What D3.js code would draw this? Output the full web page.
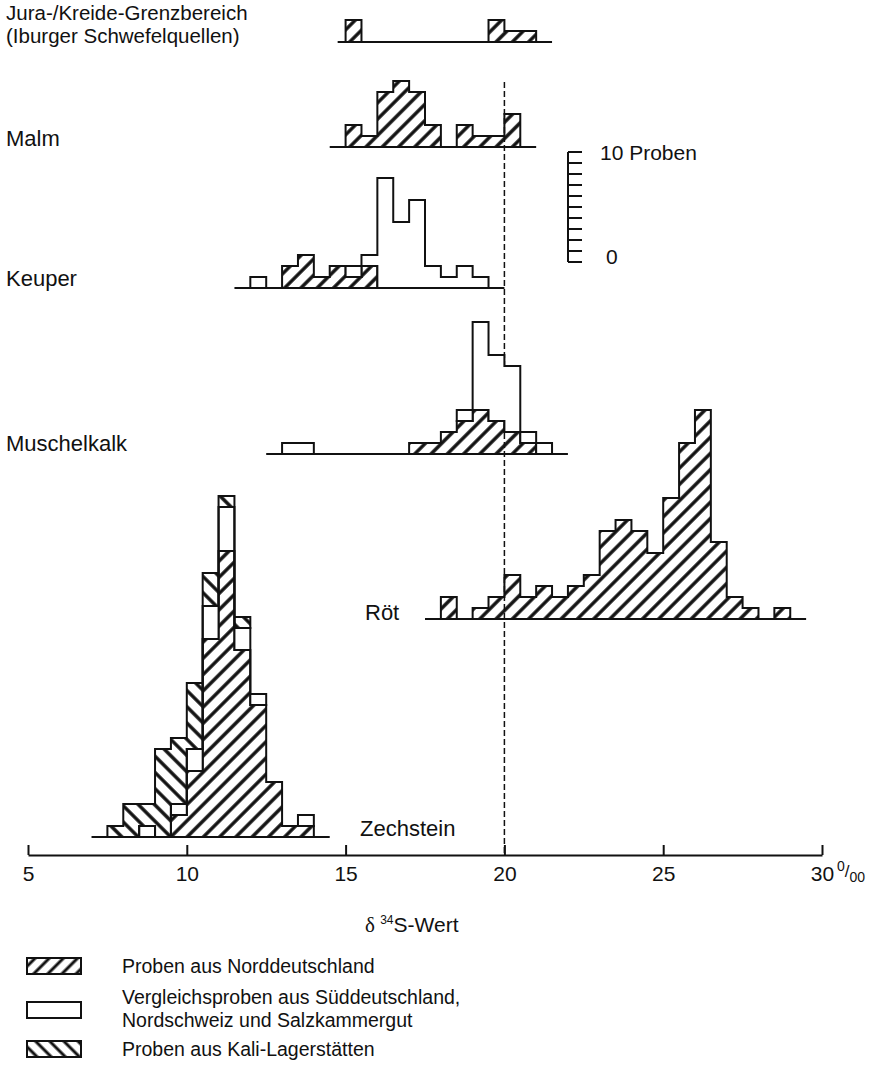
<!DOCTYPE html>
<html>
<head>
<meta charset="utf-8">
<script src="https://cdn.jsdelivr.net/npm/d3@7"></script>
<style>
  body { margin: 0; background: #fff; }
  text { font-family: "Liberation Sans", Arial, sans-serif; fill: #111; }
</style>
</head>
<body>
<script>
// all histograms use 0.5 per mil bins
const binWidth = 0.5;

// lower edge of the first bin of each stratum
const juraStart = 15.0;
const malmStart = 15.0;
const keuperStart = 12.0;
const muschelkalkStart = 13.0;
const roetStart = 18.0;
const zechsteinStart = 7.5;

// sample counts per bin
// N = Norddeutschland, S = Vergleichsproben (Sueddeutschland ...), K = Kali-Lagerstaetten
const juraN = [2, 0, 0, 0, 0, 0, 0, 0, 0, 2, 1, 1];
const malmN = [2, 1, 5, 6, 5, 2, 0, 2, 1, 1, 3];
const keuperN = [0, 0, 2, 3, 1, 2, 1, 2, 0, 0, 0, 0, 0, 0, 0];
const keuperS = [1, 0, 0, 0, 0, 0, 1, 1, 10, 6, 8, 2, 1, 2, 1];
const muschelkalkN = [0, 0, 0, 0, 0, 0, 0, 0, 1, 1, 2, 3, 4, 3, 2, 1, 0];
const muschelkalkS = [1, 1, 0, 0, 0, 0, 0, 0, 0, 0, 0, 1, 8, 6, 6, 1, 1];
const roetN = [2, 0, 1, 2, 4, 2, 3, 2, 3, 4, 8, 9, 8, 6, 11, 16, 19, 7, 2, 1, 0, 1];
const zechsteinN = [0, 0, 0, 0, 2, 6, 18, 26, 17, 12, 5, 1, 1];
const zechsteinS = [0, 0, 1, 0, 1, 2, 3, 4, 2, 1, 0, 0, 1];
const zechsteinK = [1, 3, 2, 8, 6, 6, 3, 1, 1, 0, 0, 0, 0];

// extent of the base line under each histogram
const juraRange = [14.75, 21.5];
const malmRange = [14.5, 21];
const keuperRange = [11.5, 20];
const muschelkalkRange = [12.5, 22];
const roetRange = [17.5, 29.5];
const zechsteinRange = [7, 14.5];

const xTicks = [5, 10, 15, 20, 25, 30];
const scaleTicks = [0, 1, 2, 3, 4, 5, 6, 7, 8, 9, 10];
const legendLabels = [
  ["Proben aus Norddeutschland"],
  ["Vergleichsproben aus Süddeutschland,", "Nordschweiz und Salzkammergut"],
  ["Proben aus Kali-Lagerstätten"]
];

const svg = d3
  .select("body")
  .append("svg")
  .attr("width", 874)
  .attr("height", 1069);

const x = d3.scaleLinear().domain([5, 30]).range([28, 822]);
// offset above a base line, in samples
const y = d3.scaleLinear().domain([0, 10]).range([0, -110]);

// hatch patterns
const defs = svg.append("defs");
function hatch(id, angle, gap, width) {
  defs
    .append("pattern")
    .attr("id", id)
    .attr("patternUnits", "userSpaceOnUse")
    .attr("width", gap)
    .attr("height", gap)
    .attr("patternTransform", `rotate(${angle})`)
    .append("line")
    .attr("x1", gap / 2)
    .attr("x2", gap / 2)
    .attr("y1", -1)
    .attr("y2", gap + 1)
    .attr("stroke", "#111")
    .attr("stroke-width", width);
}
hatch("north", 45, 11.5, 3.4);
hatch("kali", -45, 11.5, 3.4);
hatch("northLegend", 45, 10, 3);
hatch("kaliLegend", -45, 10, 3);

const fills = { N: "url(#north)", S: "#fff", K: "url(#kali)" };

const area = d3
  .area()
  .curve(d3.curveStepAfter)
  .x((d) => x(d.v))
  .y0((d) => y(d.lo))
  .y1((d) => y(d.hi));

function histogram(baseY, start, range, layers) {
  const g = svg.append("g").attr("transform", `translate(0,${baseY})`);
  const n = layers[0].counts.length;
  let below = new Array(n).fill(0);
  layers.forEach((layer) => {
    const lo = below.slice();
    const hi = lo.map((v, i) => v + layer.counts[i]);
    // one outlined polygon per run of non-empty bins
    let i = 0;
    while (i < n) {
      if (!layer.counts[i]) {
        i++;
        continue;
      }
      let j = i;
      while (j + 1 < n && layer.counts[j + 1]) j++;
      const pts = d3
        .range(i, j + 1)
        .map((k) => ({ v: start + k * binWidth, lo: lo[k], hi: hi[k] }));
      pts.push({ v: start + (j + 1) * binWidth, lo: lo[j], hi: hi[j] });
      g.append("path")
        .datum(pts)
        .attr("d", area)
        .attr("fill", fills[layer.key])
        .attr("stroke", "#111")
        .attr("stroke-width", 2)
        .attr("stroke-linejoin", "miter");
      i = j + 1;
    }
    below = hi;
  });
  // base line
  g.append("line")
    .attr("x1", x(range[0]))
    .attr("x2", x(range[1]))
    .attr("stroke", "#111")
    .attr("stroke-width", 2);
}

// dashed reference line at 20 per mil (drawn first, bars cover it)
svg
  .append("line")
  .attr("x1", x(20))
  .attr("x2", x(20))
  .attr("y1", 82)
  .attr("y2", 855)
  .attr("stroke", "#111")
  .attr("stroke-width", 1.5)
  .attr("stroke-dasharray", "6,3");

histogram(42, juraStart, juraRange, [{ key: "N", counts: juraN }]);
histogram(147, malmStart, malmRange, [{ key: "N", counts: malmN }]);
histogram(288, keuperStart, keuperRange, [
  { key: "N", counts: keuperN },
  { key: "S", counts: keuperS }
]);
histogram(454, muschelkalkStart, muschelkalkRange, [
  { key: "N", counts: muschelkalkN },
  { key: "S", counts: muschelkalkS }
]);
histogram(619, roetStart, roetRange, [{ key: "N", counts: roetN }]);
histogram(837, zechsteinStart, zechsteinRange, [
  { key: "N", counts: zechsteinN },
  { key: "S", counts: zechsteinS },
  { key: "K", counts: zechsteinK }
]);

// stratum labels
const labels = [
  { t: "Jura-/Kreide-Grenzbereich", x: 6, y: 20, s: 20.5 },
  { t: "(Iburger Schwefelquellen)", x: 6, y: 43, s: 20.5 },
  { t: "Malm", x: 6, y: 146, s: 22 },
  { t: "Keuper", x: 6, y: 286, s: 22 },
  { t: "Muschelkalk", x: 6, y: 451, s: 22 },
  { t: "Röt", x: 365, y: 620, s: 22 },
  { t: "Zechstein", x: 360, y: 836, s: 22 }
];
svg
  .selectAll(".label")
  .data(labels)
  .enter()
  .append("text")
  .attr("class", "label")
  .attr("x", (d) => d.x)
  .attr("y", (d) => d.y)
  .attr("font-size", (d) => d.s)
  .text((d) => d.t);

// x axis
const xAxis = d3
  .axisBottom(x)
  .tickValues(xTicks)
  .tickSizeInner(-10)
  .tickSizeOuter(0)
  .tickPadding(9)
  .tickFormat(d3.format("d"));
const axisG = svg.append("g").attr("transform", "translate(0,855)").call(xAxis);
axisG.select(".domain").attr("stroke", "#111").attr("stroke-width", 2);
axisG.selectAll(".tick line").attr("stroke", "#111").attr("stroke-width", 2);
axisG
  .selectAll(".tick text")
  .attr("font-size", 21)
  .attr("fill", "#111")
  .attr("font-family", '"Liberation Sans", Arial, sans-serif')
  .attr("dy", "0.8em");

// per mil sign after 30
const perMil = svg
  .append("text")
  .attr("x", x(30) + 15)
  .attr("y", 879)
  .attr("font-size", 14);
perMil.append("tspan").attr("dy", -8).text("0");
perMil.append("tspan").attr("dy", 6).attr("font-size", 17).text("/");
perMil.append("tspan").attr("dy", 5).text("00");

// axis title
const title = svg.append("text").attr("x", 365).attr("y", 932).attr("font-size", 21);
title
  .append("tspan")
  .attr("font-family", '"Liberation Serif", "DejaVu Serif", serif')
  .text("δ ");
title.append("tspan").attr("font-size", 12).attr("dy", -8).text("34");
title.append("tspan").attr("dy", 8).text("S-Wert");

// scale bar for sample counts
const scaleG = svg.append("g").attr("transform", "translate(568,262)");
scaleG
  .append("line")
  .attr("y1", y(0))
  .attr("y2", y(10))
  .attr("stroke", "#111")
  .attr("stroke-width", 2);
scaleG
  .selectAll(".stick")
  .data(scaleTicks)
  .enter()
  .append("line")
  .attr("x1", 0)
  .attr("x2", 14)
  .attr("y1", (d) => y(d))
  .attr("y2", (d) => y(d))
  .attr("stroke", "#111")
  .attr("stroke-width", 2);
scaleG
  .append("text")
  .attr("x", 32)
  .attr("y", y(10) + 8)
  .attr("font-size", 21)
  .text("10 Proben");
scaleG
  .append("text")
  .attr("x", 38)
  .attr("y", y(0) + 2)
  .attr("font-size", 21)
  .text("0");

// legend
const legendKeys = ["northLegend", "white", "kaliLegend"];
const legendY = [958, 1002, 1041];
const legend = svg
  .selectAll(".legend")
  .data(legendLabels)
  .enter()
  .append("g")
  .attr("class", "legend")
  .attr("transform", (d, i) => `translate(0,${legendY[i]})`);
legend
  .append("rect")
  .attr("x", 27)
  .attr("y", 0)
  .attr("width", 54)
  .attr("height", 16)
  .attr("fill", (d, i) => (legendKeys[i] === "white" ? "#fff" : `url(#${legendKeys[i]})`))
  .attr("stroke", "#111")
  .attr("stroke-width", 2);
legend
  .selectAll("text")
  .data((d) => d)
  .enter()
  .append("text")
  .attr("x", 122)
  .attr("y", (d, j, nodes) => (nodes.length > 1 ? 2 + j * 23 : 15))
  .attr("font-size", 19.5)
  .text((d) => d);
</script>
</body>
</html>
